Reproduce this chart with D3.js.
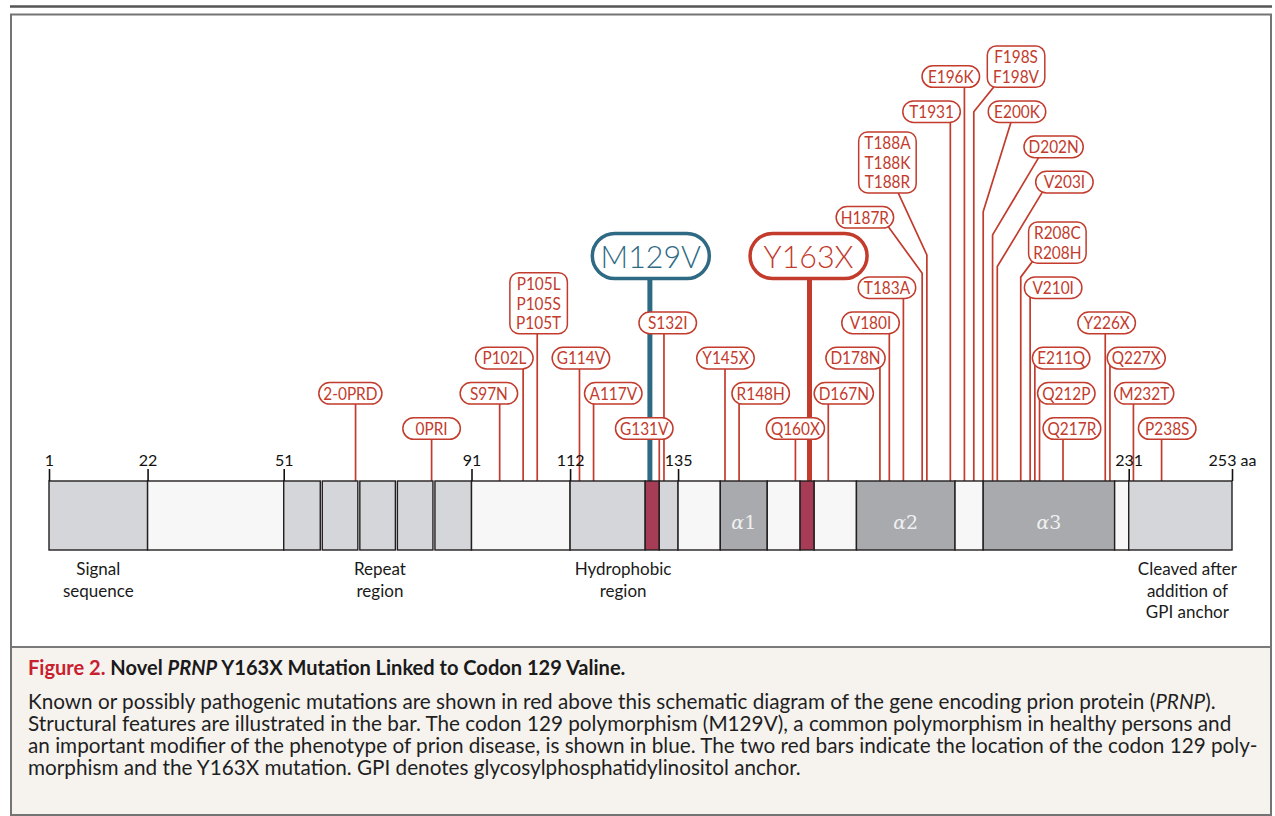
<!DOCTYPE html>
<html><head><meta charset="utf-8">
<script src="https://cdn.jsdelivr.net/npm/d3@7"></script>
<style>body{margin:0;background:#fff} svg{display:block}</style>
</head><body>
<svg id="c" width="1275" height="816"></svg>
<script>
// ---------- DATA ----------
const tickValues = [1, 22, 51, 91, 112, 135, 231, 253];

const segStart = [1, 22, 51, 59, 67, 75, 83, 91, 112, 128, 131, 135, 144, 154, 161, 164, 173, 194, 200, 228, 231];
const segEnd   = [22, 51, 59, 67, 75, 83, 91, 112, 128, 131, 135, 144, 154, 161, 164, 173, 194, 200, 228, 231, 253];
const segType  = ["light","white","repeat","repeat","repeat","repeat","repeat","white","light","mark","light","white","helix","white","mark","white","helix","white","helix","white","light"];
const segLabel = ["","","","","","","","","","","","","1","","","","2","","3","",""];

const regionNames  = [["Signal","sequence"], ["Repeat","region"], ["Hydrophobic","region"], ["Cleaved after","addition of","GPI anchor"]];
const regionCenter = [11.5, 71.5, 123.3, 243.5];

const mutLabels = ["2-0PRD","0PRI","S97N","P102L","P105L|P105S|P105T","G114V","A117V","G131V","S132I","M129V",
  "Y145X","R148H","Q160X","Y163X","D167N","D178N","V180I","T183A","H187R","T188A|T188K|T188R",
  "T1931","E196K","F198S|F198V","E200K","D202N","V203I","R208C|R208H","V210I","E211Q","Q212P",
  "Q217R","Y226X","Q227X","M232T","P238S"];
const mutCodons = [66.3, 82.5, 97, 102, 105, 114, 117, 131, 132, 129,
  145, 148, 160, 163, 167, 178, 180, 183, 187, 188,
  193, 196, 198, 200, 202, 203, 208, 210, 211, 212,
  217, 226, 227, 232, 238];
const labelCodons = [65.2, 82.5, 94.7, 98.0, 105.3, 114.3, 121.2, 127.8, 132.8, 129.2,
  145.1, 152.6, 160.0, 162.8, 170.3, 172.8, 176.0, 179.5, 174.8, 179.6,
  189.0, 193.1, 207.0, 207.2, 215.0, 217.3, 215.8, 214.9, 216.6, 217.7,
  218.9, 226.3, 232.6, 234.3, 239.2];
const labelTiers = [2, 1, 2, 3, 4, 3, 2, 1, 4, 5.9,
  3, 2, 1, 5.9, 2, 3, 4, 5, 7, 8,
  10, 11, 11, 10, 9, 8, 6, 5, 3, 2,
  1, 4, 3, 2, 1];
const mutKind = ["red","red","red","red","red","red","red","red","red","blue",
  "red","red","red","big","red","red","red","red","red","red",
  "red","red","red","red","red","red","red","red","red","red",
  "red","red","red","red","red"];
// elbow leaders: mutation label, anchor codon on box, bend tier
const elbowMut    = ["H187R", "T188A|T188K|T188R", "F198S|F198V", "E200K", "D202N", "V203I", "R208C|R208H"];
const elbowAnchor = [180.0, 181.9, 202.2, 205.9, 211.8, 212.5, 210.2];
const elbowBend   = [5.41, 5.93, 10.0, 7.16, 6.5, 5.6, 5.3];

const captionTitle = ["Figure 2.", " Novel ", "PRNP", " Y163X Mutation Linked to Codon 129 Valine."];
const captionLines = [
  [["Known or possibly pathogenic mutations are shown in red above this schematic diagram of the gene encoding prion protein (", false], ["PRNP", true], [").", false]],
  [["Structural features are illustrated in the bar. The codon 129 polymorphism (M129V), a common polymorphism in healthy persons and", false]],
  [["an important modifier of the phenotype of prion disease, is shown in blue. The two red bars indicate the location of the codon 129 poly-", false]],
  [["morphism and the Y163X mutation. GPI denotes glycosylphosphatidylinositol anchor.", false]]
];

// ---------- STYLE ----------
const RED = "#c23b2c", BLUE = "#2e6a83", MARK = "#a63c55";
const FONT = "Lato, 'Open Sans', sans-serif";
const fills = {light: "#d5d6da", repeat: "#d5d6da", white: "#f6f7f6", helix: "#a8aaae", mark: MARK};
const SQUEEZE = 0.88;

const svg = d3.select("#c");
const x = d3.scaleLinear().domain([1, 253]).range([49, 1232]);
const tierY = d3.scaleLinear().domain([1, 11]).range([428.5, 76.5]);
const barTop = 481, barBottom = 550;

// frame
svg.append("line").attr("x1", 10).attr("x2", 1272).attr("y1", 6.5).attr("y2", 6.5)
  .attr("stroke", "#555").attr("stroke-width", 2.5);
svg.append("rect").attr("x", 11).attr("y", 647).attr("width", 1260).attr("height", 168).attr("fill", "#f6f3ef");
svg.append("line").attr("x1", 11).attr("x2", 1271).attr("y1", 647).attr("y2", 647).attr("stroke", "#7a7a7a").attr("stroke-width", 2);
svg.append("rect").attr("x", 11).attr("y", 14.5).attr("width", 1260).attr("height", 800.5)
  .attr("fill", "none").attr("stroke", "#747474").attr("stroke-width", 2);

// mutations model
const muts = mutLabels.map((l, i) => {
  const lines = l.split("|");
  const e = elbowMut.indexOf(l);
  return {label: l, lines, codon: mutCodons[i], lc: labelCodons[i], tier: labelTiers[i], kind: mutKind[i],
          anchor: e >= 0 ? elbowAnchor[e] : null, bend: e >= 0 ? elbowBend[e] : null};
});
const singleH = 21.6, lineStep = 19.7, bigH = 45;
muts.forEach(m => {
  const big = m.kind !== "red";
  if (big) { m.h = bigH; m.top = tierY(m.tier) - bigH / 2; }
  else {
    m.h = singleH + (m.lines.length - 1) * lineStep;
    m.top = tierY(m.tier) + singleH / 2 - m.h;
  }
  m.cy = m.top + m.h / 2;
});

// leader lines
const gLines = svg.append("g");
muts.forEach(m => {
  const col = m.kind === "blue" ? BLUE : RED;
  const sw = m.kind === "red" ? 1.7 : 5;
  let d;
  if (m.anchor !== null) {
    const ax = x(m.anchor), by = tierY(m.bend);
    const bot = m.top + m.h;
    const slope = (x(m.codon) - ax) / (by - bot);
    d = `M${ax - slope * (bot - m.cy)},${m.cy}L${x(m.codon)},${by}L${x(m.codon)},${barTop}`;
  } else {
    d = `M${x(m.codon)},${m.cy}L${x(m.codon)},${barTop}`;
  }
  gLines.append("path").attr("d", d).attr("fill", "none").attr("stroke", col).attr("stroke-width", sw);
});

// label boxes
const gBoxes = svg.append("g");
muts.forEach(m => {
  const big = m.kind !== "red";
  const col = m.kind === "blue" ? BLUE : RED;
  const g = gBoxes.append("g");
  const rect = g.append("rect");
  const fs = big ? 32 : 17.5;
  const sq = big ? 0.95 : SQUEEZE;
  let maxW = 0;
  m.lines.forEach((t, j) => {
    const cy = big ? m.cy : m.top + singleH / 2 + j * lineStep;
    const tx = g.append("text")
      .attr("transform", `translate(${x(m.lc)},${cy}) scale(${sq},1)`)
      .attr("dy", "0.36em").attr("text-anchor", "middle")
      .attr("font-family", FONT).attr("font-size", fs).attr("font-weight", big ? 300 : 400)
      .attr("fill", col).text(t);
    maxW = Math.max(maxW, tx.node().getComputedTextLength() * sq);
  });
  const w = big ? 117 : Math.max(57.5, maxW + 9);
  rect.attr("x", x(m.lc) - w / 2).attr("y", m.top).attr("width", w).attr("height", m.h)
    .attr("rx", big ? 22.5 : (m.lines.length > 1 ? 9 : singleH / 2))
    .attr("fill", "#fff").attr("stroke", col).attr("stroke-width", big ? 3.5 : 1.5);
});

// bar segments
const gBar = svg.append("g");
segStart.forEach((s, i) => {
  const e = segEnd[i], t = segType[i];
  let x0 = x(s), x1 = x(e);
  if (t === "repeat") { if (s > 51) x0 += 1; if (e < 91) x1 -= 1; }
  gBar.append("rect").attr("x", x0).attr("y", barTop).attr("width", x1 - x0).attr("height", barBottom - barTop)
    .attr("fill", fills[t]).attr("stroke", "#231f20").attr("stroke-width", 1.4);
  if (segLabel[i]) {
    const tx = gBar.append("text").attr("x", (x0 + x1) / 2).attr("y", 529).attr("text-anchor", "middle")
      .attr("font-family", "'DejaVu Serif', serif").attr("font-size", 19).attr("fill", "#f0f0f0");
    tx.append("tspan").attr("font-style", "italic").text("α");
    tx.append("tspan").text(segLabel[i]);
  }
});

// axis ticks
const axis = d3.axisTop(x).tickValues(tickValues).tickSize(12).tickSizeOuter(0).tickPadding(3)
  .tickFormat(d => d === 253 ? "253 aa" : d);
const ga = svg.append("g").attr("transform", `translate(0,${barTop})`).call(axis);
ga.select(".domain").remove();
ga.selectAll("line").attr("stroke", "#111").attr("stroke-width", 1.6);
ga.selectAll("text").attr("font-family", FONT).attr("font-size", 16).attr("fill", "#111");

// region labels
regionNames.forEach((lines, i) => {
  lines.forEach((t, j) => {
    svg.append("text").attr("x", x(regionCenter[i])).attr("y", 575 + j * 21.5).attr("text-anchor", "middle")
      .attr("font-family", FONT).attr("font-size", 17).attr("fill", "#1a1a1a").text(t);
  });
});

// caption
const title = svg.append("text").attr("x", 28).attr("y", 675).attr("font-family", FONT)
  .attr("font-weight", 700).attr("font-size", 17).attr("fill", "#1a1a1a");
captionTitle.forEach((t, i) => {
  const ts = title.append("tspan").text(t);
  if (i === 0) ts.attr("fill", "#c8202f");
  if (i === 2) ts.attr("font-style", "italic");
});
const tw = title.node().getComputedTextLength();
title.attr("font-size", 17 * 598 / tw);

const bodyTexts = captionLines.map((parts, k) => {
  const t = svg.append("text").attr("x", 28).attr("y", 709 + k * 22).attr("font-family", FONT)
    .attr("font-size", 16).attr("fill", "#1f1f1f");
  parts.forEach(p => { const ts = t.append("tspan").text(p[0]); if (p[1]) ts.attr("font-style", "italic"); });
  return t;
});
const refLen = bodyTexts[2].node().getComputedTextLength();
const bodyFs = 16 * 1230 / refLen;
bodyTexts.forEach(t => t.attr("font-size", bodyFs));
</script>
</body></html>
